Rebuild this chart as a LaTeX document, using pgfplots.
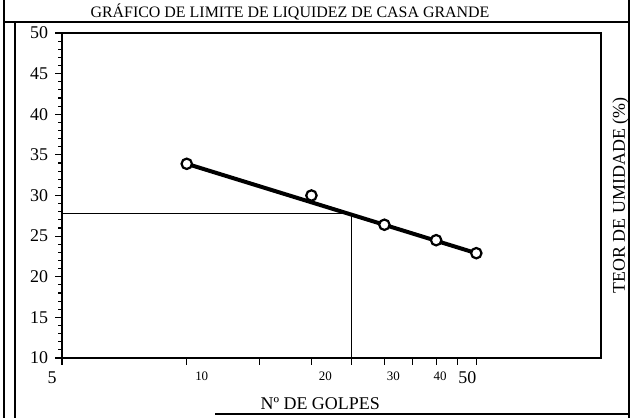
\documentclass[border=0pt]{standalone}
\usepackage{pgfplots}
\pgfplotsset{compat=1.18}
\usepackage{fontspec}
\setmainfont{Liberation Serif}
\pgfplotstableread{
x y
10 33.9
20 30.0
30 26.4
40 24.5
50 22.9
}\golpes
\newcommand{\sh}[2]{\makebox[0pt]{\hspace*{#1}#2}}
\begin{document}
\begin{tikzpicture}[x=0.5bp,y=0.5bp]
\path[use as bounding box] (0,0) rectangle (634,418);
% frame of the chart area
\draw[line width=0.8bp] (4,0) -- (4,418);
\draw[line width=0.8bp] (15,0) -- (15,396);
\draw[line width=1.1bp] (4,396) -- (629,396);
\draw[line width=0.8bp] (629,0) -- (629,418);
\draw[line width=0.8bp] (215,4) -- (629,4);
\node[font=\fontsize{8}{9}\selectfont] at (290,406) {GRÁFICO DE LIMITE DE LIQUIDEZ DE CASA GRANDE};
\begin{axis}[
  at={(31bp,30bp)}, anchor=south west,
  scale only axis, width=269.5bp, height=162.5bp,
  xmode=log, xmin=5, xmax=100, ymin=10, ymax=50,
  xtick={5,10,15,20,25,30,35,40,45,50},
  xticklabels={{\raisebox{-1.3ex}{\fontsize{9}{10}\selectfont\sh{-10bp}{5}}},\sh{15bp}{10},{},\sh{14bp}{20},{},\sh{9bp}{30},{},\sh{4bp}{40},{},{\raisebox{-0.6ex}{\fontsize{9}{10}\selectfont\sh{-9bp}{50}}}},
  xticklabel style={font=\fontsize{6.5}{7}\selectfont},
  minor x tick num=0,
  ytick={10,15,...,50}, minor y tick num=4,
  yticklabel style={font=\fontsize{9}{10}\selectfont},
  tick align=outside, xtick pos=bottom, ytick pos=left,
  major tick length=3.5bp, minor tick length=2bp,
  axis line style={line width=0.8bp},
  every tick/.style={black, line width=0.6bp},
  /pgf/number format/assume math mode=true,
  xlabel={Nº DE GOLPES},
  xlabel style={font=\fontsize{9}{10}\selectfont, at={(axis description cs:0.479,0)}, anchor=center, yshift=-23bp},
  ylabel={TEOR DE UMIDADE (\%)},
  ylabel style={font=\fontsize{9}{10}\selectfont, at={(axis description cs:1.008,0.5)}, anchor=north},
  clip=false,
]
\addplot[black, line width=0.6bp] coordinates {(5,27.8) (25,27.8) (25,10)};
\addplot[black, line width=2bp] coordinates {(10,33.9) (50,22.9)};
\addplot[only marks, mark=*, mark size=2.6bp, mark options={line width=1.1bp, fill=white, draw=black}] table[x=x,y=y] {\golpes};
\end{axis}
\end{tikzpicture}
\end{document}
